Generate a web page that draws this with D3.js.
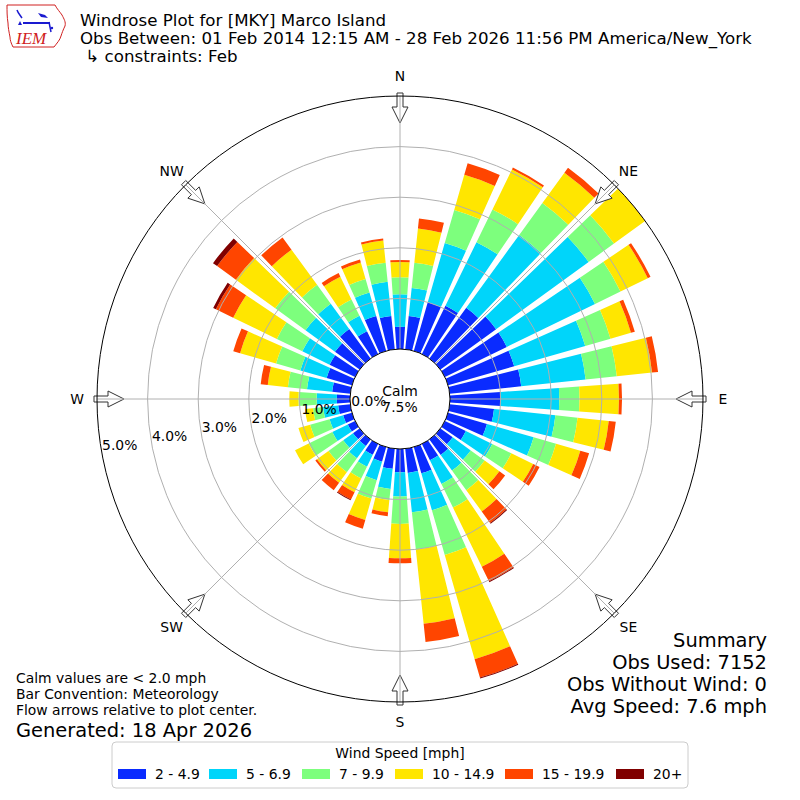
<!DOCTYPE html>
<html><head><meta charset="utf-8">
<script src="https://cdn.jsdelivr.net/npm/d3@7"></script>
<style>
body{margin:0;background:#fff}
svg{display:block}
text{font-family:"DejaVu Sans",sans-serif;fill:#000}
</style>
</head><body>
<svg id="chart" width="800" height="800"></svg>
<script>
// ---------------- DATA ----------------
const directions = [0,10,20,30,40,50,60,70,80,90,100,110,120,130,140,150,160,170,180,190,200,210,220,230,240,250,260,270,280,290,300,310,320,330,340,350];
const speedBins = ["2 - 4.9","5 - 6.9","7 - 9.9","10 - 14.9","15 - 19.9","20+"];
const binColors = ["#0a2bff","#00d5fa","#7dff7d","#ffe600","#ff4500","#800000"];
// percent of observations per direction, one array per speed bin
const spd2to5   = [0.44,0.66,1.00,1.06,1.24,1.36,1.36,1.36,1.42,1.00,0.88,0.80,0.46,0.30,0.38,0.36,0.54,0.48,0.46,0.40,0.30,0.24,0.16,0.16,0.16,0.18,0.24,0.26,0.36,0.52,0.56,0.60,0.72,0.50,0.72,0.66];
const spd5to7   = [0.64,0.56,1.22,1.40,1.78,2.26,1.94,1.46,1.28,1.16,1.22,0.96,0.58,0.44,0.38,0.52,0.76,0.78,0.48,0.40,0.38,0.26,0.30,0.24,0.34,0.28,0.30,0.40,0.50,0.54,0.60,0.72,0.62,0.34,0.48,0.68];
const spd7to10  = [0.34,0.50,0.68,0.72,0.78,0.62,0.56,0.52,0.62,0.40,0.44,0.46,0.42,0.34,0.48,0.52,0.92,0.74,0.54,0.22,0.38,0.26,0.34,0.36,0.52,0.40,0.20,0.36,0.38,0.50,0.56,0.74,0.46,0.36,0.28,0.38];
const spd10to15 = [0.30,0.68,0.72,0.88,0.74,0.76,0.60,0.42,0.70,0.78,0.62,0.50,0.48,0.36,0.52,1.30,2.14,1.48,0.68,0.24,0.44,0.30,0.26,0.28,0.30,0.24,0.16,0.18,0.40,0.74,0.96,0.96,0.86,0.50,0.34,0.44];
const spd15to20 = [0.04,0.20,0.24,0.04,0.12,0.12,0.06,0.08,0.12,0.06,0.14,0.18,0.14,0.14,0.28,0.32,0.38,0.36,0.10,0.08,0.18,0.16,0.18,0.04,0.00,0.00,0.00,0.00,0.14,0.14,0.38,0.46,0.30,0.08,0.06,0.04];
const spd20up   = [0,0,0,0,0,0,0,0,0,0,0,0,0,0,0.02,0.02,0.02,0,0,0,0,0.02,0,0,0,0,0,0,0,0,0.06,0.10,0,0,0,0];
const radialTicks = [0,1,2,3,4,5];
const compassLabels = ["N","NE","E","SE","S","SW","W","NW"];
const compassAngles = [0,45,90,135,180,225,270,315];
const calmPct = "7.5%";
const titleLines = ["Windrose Plot for [MKY] Marco Island",
  "Obs Between: 01 Feb 2014 12:15 AM - 28 Feb 2026 11:56 PM America/New_York",
  " \u21b3 constraints: Feb"];
const summaryLines = ["Summary","Obs Used: 7152","Obs Without Wind: 0","Avg Speed: 7.6 mph"];
const noteLines = ["Calm values are < 2.0 mph","Bar Convention: Meteorology","Flow arrows relative to plot center."];
const generatedText = "Generated: 18 Apr 2026";
const legendTitle = "Wind Speed [mph]";

// ---------------- CHART ----------------
const svg = d3.select("#chart");
const cx = 400, cy = 399;
const small = "13.9px";
const rScale = d3.scaleLinear().domain([0,5]).range([50,303]);
const deg = Math.PI/180;
const keys = ["a","b","c","d","e","f"];
const series = [spd2to5,spd5to7,spd7to10,spd10to15,spd15to20,spd20up];
const rows = directions.map((dir,i)=>{
  const o = {dir};
  keys.forEach((k,j)=>o[k]=series[j][i]);
  return o;
});
const stacked = d3.stack().keys(keys)(rows);

svg.append("rect").attr("width",800).attr("height",800).attr("fill","#fff");
svg.append("clipPath").attr("id","polarClipLocal")
  .append("circle").attr("cx",0).attr("cy",0).attr("r",rScale(5));

const barsG = svg.append("g").attr("transform",`translate(${cx},${cy})`)
  .attr("clip-path","url(#polarClipLocal)");

const arc = d3.arc()
  .innerRadius(d=>rScale(d[0]))
  .outerRadius(d=>rScale(d[1]))
  .startAngle(d=>(d.data.dir-4)*deg)
  .endAngle(d=>(d.data.dir+4)*deg);

stacked.forEach((s,j)=>{
  barsG.append("g").selectAll("path")
    .data(s.filter(d=>d[1]-d[0]>0))
    .join("path")
    .attr("d",arc)
    .attr("fill",binColors[j]);
});

const overlay = svg.append("g").attr("transform",`translate(${cx},${cy})`);
// ring gridlines
overlay.selectAll("circle.grid").data(radialTicks.slice(1,5)).join("circle")
  .attr("class","grid")
  .attr("r",d=>rScale(d)).attr("fill","none").attr("stroke","#b0b0b0").attr("stroke-width",1);

// arrows
const arrowPts = [[306,-3],[292,-3],[292,-8],[276,0],[292,8],[292,3],[306,3]];
compassAngles.forEach(a=>{
  const t=a*deg;
  const pts = arrowPts.map(([u,v])=>[u*Math.sin(t)+v*Math.cos(t), -u*Math.cos(t)+v*Math.sin(t)]);
  overlay.append("path").attr("d","M"+pts.map(p=>p.join(",")).join("L")+"Z")
    .attr("fill","#fff").attr("stroke","#333").attr("stroke-width",1);
});
// spokes
compassAngles.forEach(a=>{
  const t=a*deg;
  overlay.append("line")
    .attr("x1",0).attr("y1",0)
    .attr("x2",rScale(5)*Math.sin(t)).attr("y2",-rScale(5)*Math.cos(t))
    .attr("stroke","#b0b0b0").attr("stroke-width",1);
});
// outer circle
overlay.append("circle").attr("r",rScale(5)).attr("fill","none").attr("stroke","#000").attr("stroke-width",1);
// calm circle
overlay.append("circle").attr("r",rScale(0)).attr("fill","#fff").attr("stroke","#000").attr("stroke-width",1);
overlay.append("text").attr("x",0).attr("y",-3).attr("text-anchor","middle").style("font-size",small).text("Calm");
overlay.append("text").attr("x",0).attr("y",13).attr("text-anchor","middle").style("font-size",small).text(calmPct);

// radial labels
const la = 10*deg;
overlay.selectAll("text.rl").data(radialTicks).join("text")
  .attr("class","rl")
  .attr("x",d=>-rScale(d)*Math.cos(la)+0.5)
  .attr("y",d=>rScale(d)*Math.sin(la)-2)
  .style("font-size",small)
  .text(d=>d.toFixed(1)+"%");

// compass labels
compassLabels.forEach((lab,i)=>{
  const t=compassAngles[i]*deg;
  overlay.append("text").attr("x",323*Math.sin(t)).attr("y",-323*Math.cos(t)+5)
    .attr("text-anchor","middle").style("font-size",small).text(lab);
});

// title
titleLines.forEach((t,i)=>{
  svg.append("text").attr("x",80).attr("y",26+i*18).style("font-size","16.67px")
    .style("white-space","pre").text(t);
});

// logo
const logo = svg.append("g");
logo.append("path")
  .attr("d","M7,5 L55,5 C57,9 60,12 62,15 C64,19 66,22 65,26 C63,30 62,33 61,36 C60,40 57,43 54,47 L13,47 C11,43 10,40 10,37 C9,32 8,27 8,23 C7,17 7,11 7,5 Z")
  .attr("fill","none").attr("stroke","#d02020").attr("stroke-width",1);
logo.append("line").attr("x1",23).attr("y1",23).attr("x2",50).attr("y2",23).attr("stroke","#1a1ad0").attr("stroke-width",2);
logo.append("path").attr("d","M18,25 L20,21 L22,25 Z").attr("fill","#1a1ad0");
logo.append("path").attr("d","M38,13 L45,15 L48,18 L41,17 Z").attr("fill","#1a1ad0");
logo.append("path").attr("d","M17,10 C18,13 20,15 22,18").attr("stroke","#1a1ad0").attr("stroke-width",1.5).attr("fill","none");
logo.append("line").attr("x1",49).attr("y1",22).attr("x2",51).attr("y2",32).attr("stroke","#1a1ad0").attr("stroke-width",1.5);
logo.append("circle").attr("cx",52).attr("cy",28).attr("r",1.2).attr("fill","#1a1ad0");
logo.append("text").attr("x",16).attr("y",44).style("font-family","Liberation Serif,serif")
  .style("font-style","italic").style("font-size","17px").style("fill","#d02020").text("IEM");

// summary
summaryLines.forEach((t,i)=>{
  svg.append("text").attr("x",767).attr("y",647+i*22).attr("text-anchor","end")
    .style("font-size","19.44px").text(t);
});
// notes
noteLines.forEach((t,i)=>{
  svg.append("text").attr("x",16).attr("y",683+i*16).style("font-size",small).text(t);
});
svg.append("text").attr("x",16).attr("y",737).style("font-size","19.44px").text(generatedText);

// legend
const leg = svg.append("g");
leg.append("rect").attr("x",112).attr("y",742).attr("width",576).attr("height",46)
  .attr("rx",4).attr("fill","#fff").attr("stroke","#cccccc");
leg.append("text").attr("x",400).attr("y",758).attr("text-anchor","middle").style("font-size",small).text(legendTitle);
const legX = [118,209,302,395,505,616];
speedBins.forEach((b,i)=>{
  leg.append("rect").attr("x",legX[i]).attr("y",769).attr("width",28).attr("height",10).attr("fill",binColors[i]);
  leg.append("text").attr("x",legX[i]+37).attr("y",779).style("font-size",small).text(b);
});
</script>
</body></html>
